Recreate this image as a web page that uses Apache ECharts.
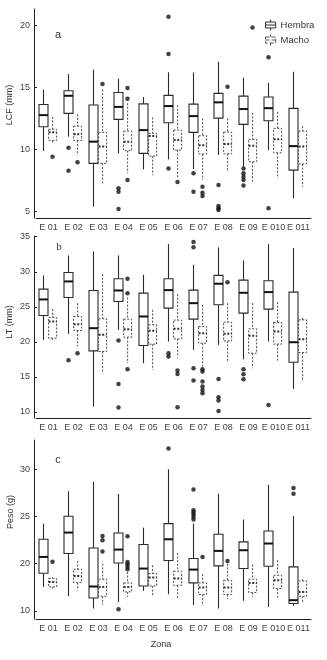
<!DOCTYPE html>
<html><head><meta charset="utf-8">
<script src="https://cdn.jsdelivr.net/npm/echarts@6/dist/echarts.min.js"></script>
<style>html,body{margin:0;padding:0;background:#fff}#c{width:327px;height:660px}</style>
</head><body><div id="c"></div>
<script>
// Categories
const zonas = ['E 01','E 02','E 03','E 04','E 05','E 06','E 07','E 08','E 09','E 010','E 011'];
// Box values per zone: [min, q1, median, q3, max]
const lcfHembra = [
  [9.84,11.8,12.74,13.6,14.8],[11.0,12.88,14.3,14.7,16.05],[5.35,8.85,10.6,13.55,16.4],
  [9.65,12.4,13.4,14.57,15.67],[8.36,9.65,11.53,13.65,14.2],[9.17,12.12,13.47,14.33,16.2],
  [8.4,11.35,12.66,13.63,16.18],[9.52,12.5,13.77,14.49,17.04],[8.57,11.99,13.23,14.27,15.75],
  [9.92,12.28,13.3,14.2,15.35],[6.02,8.3,10.24,13.28,16.24]];
const lcfMacho = [
  [10.5,10.7,11.35,11.6,12.6],[9.5,10.7,11.2,11.85,12.8],[7.18,8.85,10.2,11.35,14.8],
  [8.04,9.87,10.6,11.45,13.7],[7.9,9.43,11.05,11.27,12.55],[7.6,9.92,10.73,11.53,13.55],
  [7.5,9.6,10.3,11.08,12.47],[8.17,9.62,10.4,11.37,12.47],[7.37,8.98,10.27,10.78,12.93],
  [7.64,9.7,10.8,11.67,13.0],[6.96,8.8,10.2,11.45,11.85]];
const lcfHembraOut = [[1,10.1],[1,8.25],[3,6.83],[3,6.56],[3,5.16],[5,20.67],[5,17.66],[5,8.44],
  [6,8.04],[6,6.56],[7,7.1],[7,5.4],[7,5.22],[7,5.08],[8,8.44],[8,8.04],[8,7.77],[8,7.5],[8,7.07],
  [9,17.4],[9,5.22]];
const lcfMachoOut = [[0,9.38],[1,8.93],[2,15.24],[3,14.92],[3,14.06],[3,7.5],[5,7.34],
  [6,6.96],[6,6.48],[6,6.21],[7,15.03],[8,19.8]];

const ltHembra = [
  [20.3,23.76,26.05,27.52,29.47],[21.14,26.33,28.62,29.9,32.33],[10.76,18.71,21.95,27.33,32.9],
  [21.7,25.76,27.33,29.0,32.33],[16.95,19.48,23.62,26.95,29.57],[20.05,24.81,27.38,29.0,33.95],
  [18.86,23.24,25.52,27.38,31.0],[19.57,25.29,28.29,29.48,33.48],[17.5,24.1,27.0,28.81,31.62],
  [20.05,24.67,27.1,28.71,33.95],[13.29,17.1,19.95,27.1,33.38]];
const ltMacho = [
  [20.3,20.52,22.9,23.48,24.67],[19.33,21.62,22.52,23.62,25.52],[15.52,18.62,21.0,23.29,29.67],
  [16.95,20.67,21.81,23.24,26.33],[16.0,19.67,21.57,22.43,24.57],[17.76,20.43,21.86,23.1,26.81],
  [16.48,19.81,21.24,22.19,25.29],[17.05,20.14,21.14,22.81,25.52],[16.24,18.38,20.86,21.86,25.52],
  [17.19,19.67,21.48,22.76,25.67],[14.33,18.48,20.38,23.14,23.4]];
const ltHembraOut = [[1,17.38],[3,20.19],[3,14.0],[3,10.62],[5,18.38],[5,17.9],[6,34.24],[6,33.48],
  [6,16.24],[6,14.48],[7,14.71],[7,12.1],[7,11.62],[7,10.14],[8,16.1],[8,15.38],[8,14.67],[9,11.0]];
const ltMachoOut = [[1,18.38],[3,29.0],[3,26.95],[3,16.1],[5,15.9],[5,15.43],[5,10.67],
  [6,16.1],[6,15.76],[6,14.33],[6,13.62],[6,13.14],[6,12.67],[7,28.52]];

const pesoHembra = [
  [17.55,19.0,20.72,22.6,24.25],[16.56,21.08,23.3,25.03,27.67],[15.26,16.38,17.59,21.67,28.66],
  [15.96,20.08,21.5,23.26,27.39],[17.12,17.65,19.49,22.03,23.83],[16.77,20.34,22.59,24.25,30.0],
  [15.61,17.97,19.38,20.55,24.25],[15.26,19.77,21.36,23.12,27.42],[16.07,19.49,21.43,22.31,24.68],
  [15.43,19.74,22.14,23.47,28.38],[15.54,15.79,16.14,19.67,25.06]];
const pesoMacho = [
  [17.4,17.55,18.07,18.43,18.6],[17.2,18.0,18.71,19.42,20.3],[15.68,16.56,17.55,18.36,20.0],
  [16.49,17.02,17.55,17.97,19.13],[16.49,17.65,18.54,18.96,19.84],[16.24,17.72,18.43,19.21,21.15],
  [15.54,16.74,17.48,17.97,18.9],[16.24,16.74,17.48,18.25,20.0],[16.49,16.95,17.97,18.36,19.91],
  [16.24,17.37,18.25,18.78,20.37],[15.79,16.56,17.02,18.18,18.36]];
const pesoHembraOut = [[3,15.19],[5,32.19],[6,27.85],[6,25.66],[6,25.42],[6,25.2],[6,24.95],[6,24.68],
  [10,28.02],[10,27.42]];
const pesoMachoOut = [[0,20.2],[2,22.94],[2,22.5],[2,21.3],[3,22.91],[3,20.19],[3,19.95],[3,19.67],
  [3,19.42],[6,20.72],[7,20.3]];

// Tick labels
const lcfTicks = [5,10,15,20];
const ltTicks = [10,15,20,25,30,35];
const pesoTicks = [15,20,25,30];
const pesoTickLabels = ['10','20','25','30'];

const FONT = 'Liberation Sans';
const NARROW = "'Liberation Sans Narrow', 'Liberation Sans'";

function boxRenderer(shift, halfW, dashed) {
  return function (params, api) {
    const idx = api.value(0);
    const band = api.size([1, 0])[0];
    const p = [1,2,3,4,5].map(i => api.coord([idx, api.value(i)]));
    const cx = p[0][0] + shift * band;
    const col = dashed ? '#4a4a4a' : '#2b2b2b';
    const st = {stroke: col, lineWidth: dashed ? 1 : 1.1, fill: null, lineDash: dashed ? [2, 1.6] : null};
    return {type: 'group', children: [
      {type: 'line', shape: {x1: cx, y1: p[4][1], x2: cx, y2: p[3][1]}, style: st},
      {type: 'line', shape: {x1: cx, y1: p[1][1], x2: cx, y2: p[0][1]}, style: st},
      {type: 'rect', shape: {x: cx - halfW, y: p[3][1], width: 2 * halfW, height: p[1][1] - p[3][1]},
        style: Object.assign({}, st, {fill: '#fff'})},
      {type: 'line', shape: {x1: cx - halfW, y1: p[2][1], x2: cx + halfW, y2: p[2][1]},
        style: Object.assign({}, st, {lineWidth: 2, stroke: dashed ? '#333' : '#111'})}
    ]};
  };
}
const toRows = arr => arr.map((v, i) => [i].concat(v));

const grids = [
  {left: 36, right: 16, top: 9, height: 209},
  {left: 36, right: 16, top: 236, height: 182},
  {left: 36, right: 16, top: 440, height: 179}
];
const yRanges = [[4.44, 21.3, lcfTicks, null], [9.14, 35.1, ltTicks, null], [14.15, 33.1, pesoTicks, pesoTickLabels]];
const sets = [
  [lcfHembra, lcfMacho, lcfHembraOut, lcfMachoOut],
  [ltHembra, ltMacho, ltHembraOut, ltMachoOut],
  [pesoHembra, pesoMacho, pesoHembraOut, pesoMachoOut]
];

const xAxis = grids.map((g, i) => ({
  type: 'category', gridIndex: i, data: zonas, boundaryGap: true,
  axisLine: {lineStyle: {color: '#222', width: 1}},
  axisTick: {inside: true, alignWithLabel: true, length: 3, lineStyle: {color: '#222'}},
  axisLabel: {interval: 0, fontSize: 9, fontFamily: NARROW, color: '#444', margin: 5}
}));
const yAxis = yRanges.map((r, i) => ({
  type: 'value', gridIndex: i, min: r[0], max: r[1], offset: 2,
  splitLine: {show: false},
  axisLine: {show: true, lineStyle: {color: '#222', width: 1}},
  axisTick: {show: true, inside: true, length: 3, customValues: r[2], lineStyle: {color: '#222'}},
  axisLabel: {customValues: r[2], fontSize: 9, fontFamily: FONT, color: '#444', margin: 4,
    formatter: v => r[3] ? r[3][r[2].indexOf(v)] : String(v)}
}));

const series = [];
sets.forEach((s, i) => {
  series.push({type: 'custom', name: 'Hembra', xAxisIndex: i, yAxisIndex: i, data: toRows(s[0]),
    encode: {x: 0, y: [1,2,3,4,5]}, renderItem: boxRenderer(-0.2, 4.5, false), z: 2});
  series.push({type: 'custom', name: 'Macho', xAxisIndex: i, yAxisIndex: i, data: toRows(s[1]),
    encode: {x: 0, y: [1,2,3,4,5]}, renderItem: boxRenderer(0.165, 4, true), z: 2});
  series.push({type: 'scatter', name: 'HembraOut', xAxisIndex: i, yAxisIndex: i, data: s[2],
    symbolSize: 4.5, symbolOffset: [-5, 0], itemStyle: {color: '#111'}, z: 3});
  series.push({type: 'scatter', name: 'MachoOut', xAxisIndex: i, yAxisIndex: i, data: s[3],
    symbolSize: 4.5, symbolOffset: [4, 0], itemStyle: {color: '#111'}, z: 3});
});

const iconPath = 'path://M6,0 L6,3 M0,3 L12,3 L12,10 L0,10 Z M0,6.5 L12,6.5 M6,10 L6,13';

const chart = echarts.init(document.getElementById('c'), null, {renderer: 'canvas'});
chart.setOption({
  animation: false,
  backgroundColor: '#fff',
  grid: grids,
  xAxis: xAxis,
  yAxis: yAxis,
  legend: {
    left: 260, top: 14, orient: 'vertical', itemGap: 3, itemWidth: 12, itemHeight: 11,
    selectedMode: false,
    textStyle: {fontSize: 9.5, fontFamily: FONT, color: '#333', padding: [0, 0, 0, -1]},
    data: [
      {name: 'Hembra', icon: iconPath, itemStyle: {color: '#fff', borderColor: '#333', borderWidth: 1}},
      {name: 'Macho', icon: iconPath, itemStyle: {color: '#fff', borderColor: '#555', borderWidth: 1, borderType: 'dashed'}}
    ]
  },
  graphic: [
    {type: 'text', x: 58, y: 35, style: {text: 'a', fontSize: 11, fontFamily: FONT, fill: '#333', align: 'center', verticalAlign: 'middle'}},
    {type: 'text', x: 59, y: 247, style: {text: 'b', fontSize: 11, fontFamily: "'Liberation Serif'", fill: '#333', align: 'center', verticalAlign: 'middle'}},
    {type: 'text', x: 58, y: 460, style: {text: 'c', fontSize: 11, fontFamily: FONT, fill: '#333', align: 'center', verticalAlign: 'middle'}},
    {type: 'text', x: 10, y: 105, rotation: Math.PI / 2, style: {text: 'LCF (mm)', fontSize: 9, fontFamily: FONT, fill: '#333', align: 'center', verticalAlign: 'middle'}},
    {type: 'text', x: 10, y: 322, rotation: Math.PI / 2, style: {text: 'LT (mm)', fontSize: 9, fontFamily: FONT, fill: '#333', align: 'center', verticalAlign: 'middle'}},
    {type: 'text', x: 11, y: 512, rotation: Math.PI / 2, style: {text: 'Peso (g)', fontSize: 9, fontFamily: FONT, fill: '#333', align: 'center', verticalAlign: 'middle'}},
    {type: 'text', x: 161, y: 645, style: {text: 'Zona', fontSize: 9, fontFamily: FONT, fill: '#333', align: 'center', verticalAlign: 'middle'}}
  ],
  series: series
});
</script></body></html>
